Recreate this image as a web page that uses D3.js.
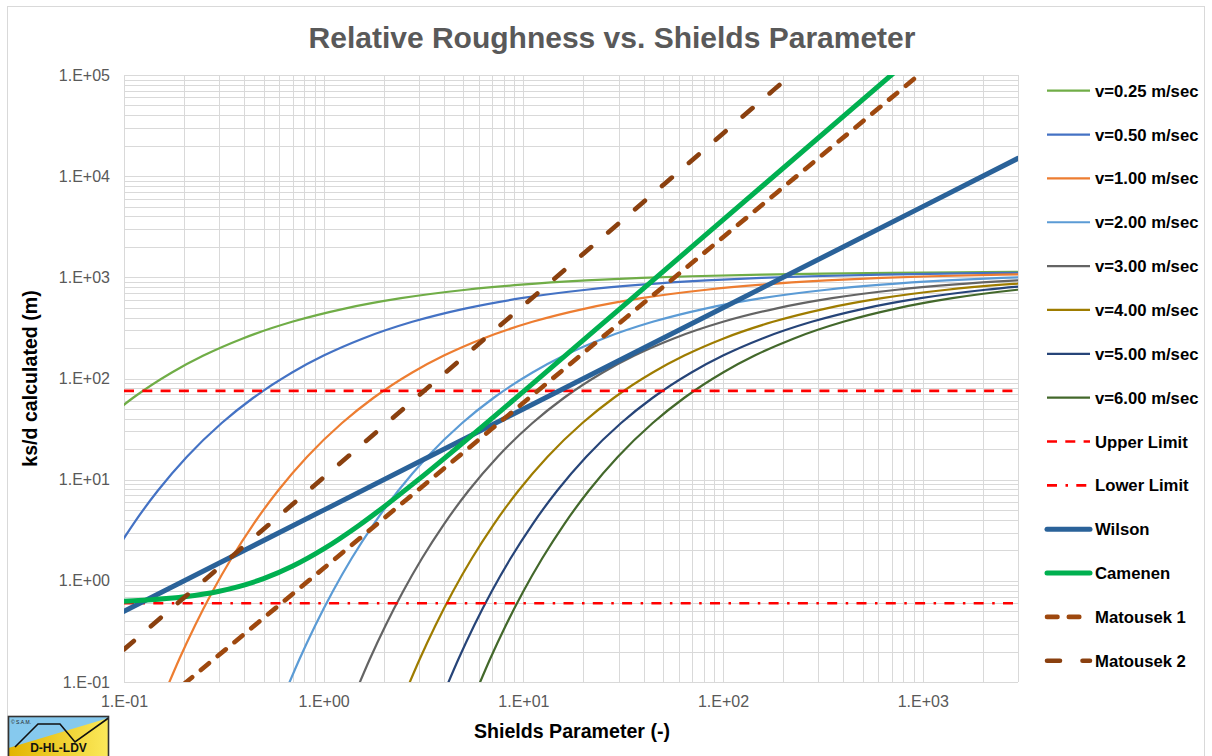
<!DOCTYPE html>
<html>
<head>
<meta charset="utf-8">
<script src="https://cdn.jsdelivr.net/npm/d3@7"></script>
<style>
  html, body { margin: 0; padding: 0; background: #ffffff; }
  svg { display: block; font-family: "Liberation Sans", Arial, sans-serif; }
</style>
</head>
<body>
<svg id="chart" width="1212" height="756"></svg>
<script>
// ---------------- DATA ----------------
const titleText = "Relative Roughness vs. Shields Parameter";
const xAxisTitle = "Shields Parameter (-)";
const yAxisTitle = "ks/d calculated (m)";

const xTickValues = [0.1, 1, 10, 100, 1000];
const xTickLabels = ["1.E-01", "1.E+00", "1.E+01", "1.E+02", "1.E+03"];
const yTickValues = [0.1, 1, 10, 100, 1000, 10000, 100000];
const yTickLabels = ["1.E-01", "1.E+00", "1.E+01", "1.E+02", "1.E+03", "1.E+04", "1.E+05"];

// [Shields parameter, ks/d]
const v025 = [[0.0772,36.29],[0.1111,64.54],[0.1736,114.8],[0.25,168.6],[0.3906,247.5],[0.6944,363.4],[1.291,494.0],[2.441,622.2],[5.165,754.1],[9.766,845.8],[20.66,931.1],[39.06,986.3],[69.44,1025],[156.3,1065],[318.9,1090],[692.5,1109],[1479,1122],[3086,1130]];
const v050 = [[0.0865,1.681],[0.1111,3.624],[0.1479,7.809],[0.2066,16.84],[0.3086,36.29],[0.4444,64.54],[0.6944,114.8],[1.0,168.6],[1.5625,247.5],[2.778,363.4],[5.165,494.0],[9.766,622.2],[20.66,754.1],[39.06,845.8],[82.64,931.1],[156.3,986.3],[277.8,1025],[625,1065],[1276,1090],[2770,1109],[5917,1122]];
const v100 = [[0.16,0.0779],[0.189,0.1679],[0.2268,0.3619],[0.277,0.7801],[0.346,1.681],[0.4444,3.624],[0.5917,7.809],[0.8264,16.84],[1.235,36.29],[1.778,64.54],[2.778,114.8],[4.0,168.6],[6.25,247.5],[11.11,363.4],[20.66,494.0],[39.06,622.2],[82.64,754.1],[156.3,845.8],[330.6,931.1],[625,986.3],[1111,1025],[2500,1065],[5102,1090]];
const v200 = [[0.64,0.0779],[0.7561,0.1679],[0.907,0.3619],[1.108,0.7801],[1.384,1.681],[1.778,3.624],[2.367,7.809],[3.306,16.84],[4.938,36.29],[7.111,64.54],[11.11,114.8],[16,168.6],[25,247.5],[44.44,363.4],[82.64,494.0],[156.3,622.2],[330.6,754.1],[625,845.8],[1322,931.1],[2500,986.3],[4444,1025]];
const v300 = [[1.44,0.0779],[1.701,0.1679],[2.041,0.3619],[2.493,0.7801],[3.114,1.681],[4.0,3.624],[5.325,7.809],[7.438,16.84],[11.11,36.29],[16,64.54],[25,114.8],[36,168.6],[56.25,247.5],[100,363.4],[186.0,494.0],[351.6,622.2],[743.8,754.1],[1406,845.8],[2975,931.1],[5625,986.3]];
const v400 = [[2.56,0.0779],[3.025,0.1679],[3.628,0.3619],[4.432,0.7801],[5.536,1.681],[7.111,3.624],[9.467,7.809],[13.22,16.84],[19.75,36.29],[28.44,64.54],[44.44,114.8],[64,168.6],[100,247.5],[177.8,363.4],[330.6,494.0],[625,622.2],[1322,754.1],[2500,845.8],[5289,931.1]];
const v500 = [[4.0,0.0779],[4.726,0.1679],[5.669,0.3619],[6.925,0.7801],[8.651,1.681],[11.11,3.624],[14.79,7.809],[20.66,16.84],[30.86,36.29],[44.44,64.54],[69.44,114.8],[100,168.6],[156.3,247.5],[277.8,363.4],[516.5,494.0],[976.6,622.2],[2066,754.1],[3906,845.8]];
const v600 = [[5.76,0.0779],[6.805,0.1679],[8.163,0.3619],[9.972,0.7801],[12.46,1.681],[16,3.624],[21.30,7.809],[29.75,16.84],[44.44,36.29],[64,64.54],[100,114.8],[144,168.6],[225,247.5],[400,363.4],[743.8,494.0],[1406,622.2],[2975,754.1],[5625,845.8]];
const upperLimit = [[0.1,75.4],[3000,75.4]];
const lowerLimit = [[0.1,0.6],[3000,0.6]];
const wilson = [[0.1,0.5],[1,5],[10,50],[100,500],[1000,5000],[3000,15000]];
const camenen = [[0.1,0.629],[0.2,0.695],[0.3,0.790],[0.5,1.052],[0.7,1.402],[1,2.07],[1.5,3.53],[2,5.38],[3,10.12],[5,23.28],[10,74.3],[30,477.5],[100,3693],[1000,185000]];
const matousek1 = [[0.2,0.0958],[1,1.332],[10,57.6],[100,2493],[1000,107800]];
const matousek2 = [[0.1,0.210],[1,10.52],[10,527],[100,26420],[300,171000]];

const seriesNames = ["v=0.25 m/sec","v=0.50 m/sec","v=1.00 m/sec","v=2.00 m/sec","v=3.00 m/sec","v=4.00 m/sec","v=5.00 m/sec","v=6.00 m/sec","Upper Limit","Lower Limit","Wilson","Camenen","Matousek 1","Matousek 2"];
const seriesData = [v025, v050, v100, v200, v300, v400, v500, v600, upperLimit, lowerLimit, wilson, camenen, matousek1, matousek2];
const seriesColors = ["#70ad47","#4472c4","#ed7d31","#5b9bd5","#646464","#9e7c00","#264478","#43682b","#ff0000","#ff0000","#2a6299","#00b050","#9e480e","#8a400f"];
const seriesWidths = [2.2,2.2,2.2,2.2,2.2,2.2,2.2,2.2,2.6,2.6,5,5,4.6,4.6];
const seriesDash = [null,null,null,null,null,null,null,null,"10,8.3","10,8.5,2.5,8.3",null,null,"10.5,11.3","13,22.5"];
const seriesCaps = ["butt","butt","butt","butt","butt","butt","butt","butt","butt","butt","round","round","round","round"];

// ---------------- LAYOUT ----------------
const plot = { left: 124, right: 1018, top: 75, bottom: 682 };

const svg = d3.select("#chart");

// chart area border
svg.append("rect")
  .attr("x", 7.5).attr("y", 6.5)
  .attr("width", 1197).attr("height", 770)
  .attr("fill", "#ffffff").attr("stroke", "#d9d9d9").attr("stroke-width", 1);

const x = d3.scaleLog().domain([0.1, 3000]).range([plot.left, plot.right]);
const y = d3.scaleLog().domain([0.1, 100000]).range([plot.bottom, plot.top]);

// gridlines (major + minor)
const xGrid = [];
xTickValues.forEach(d => { for (let k = 1; k <= 9; k++) { const v = d * k; if (v <= 3000 * 1.0001) xGrid.push(v); } });
xGrid.push(3000);
const yGrid = [];
yTickValues.slice(0, -1).forEach(d => { for (let k = 1; k <= 9; k++) yGrid.push(d * k); });
yGrid.push(100000);

const grid = svg.append("g").attr("stroke", "#d9d9d9").attr("stroke-width", 1).attr("shape-rendering", "crispEdges");
grid.selectAll("line.v").data(xGrid).join("line").attr("class", "v")
  .attr("x1", d => Math.round(x(d)) + 0.5).attr("x2", d => Math.round(x(d)) + 0.5)
  .attr("y1", plot.top).attr("y2", plot.bottom);
grid.selectAll("line.h").data(yGrid).join("line").attr("class", "h")
  .attr("y1", d => Math.round(y(d)) + 0.5).attr("y2", d => Math.round(y(d)) + 0.5)
  .attr("x1", plot.left).attr("x2", plot.right);

// axes (labels only)
const xAxis = d3.axisBottom(x).tickValues(xTickValues).tickFormat((d, i) => xTickLabels[i]).tickSize(0).tickPadding(14);
const gx = svg.append("g").attr("transform", `translate(0,${plot.bottom})`).call(xAxis);
gx.select(".domain").remove();
gx.selectAll("text").attr("fill", "#595959").style("font-size", "16px").style("font-family", "'Liberation Sans', Arial, sans-serif");

const yAxis = d3.axisLeft(y).tickValues(yTickValues).tickFormat((d, i) => yTickLabels[i]).tickSize(0).tickPadding(14);
const gy = svg.append("g").attr("transform", `translate(${plot.left},0)`).call(yAxis);
gy.select(".domain").remove();
gy.selectAll("text").attr("fill", "#595959").style("font-size", "16px").style("font-family", "'Liberation Sans', Arial, sans-serif");

// clip
svg.append("defs").append("clipPath").attr("id", "plotClip")
  .append("rect").attr("x", plot.left).attr("y", plot.top)
  .attr("width", plot.right - plot.left).attr("height", plot.bottom - plot.top);

const line = d3.line().x(d => x(d[0])).y(d => y(d[1])).curve(d3.curveMonotoneX);

const lines = svg.append("g").attr("clip-path", "url(#plotClip)");
seriesData.forEach((data, i) => {
  lines.append("path")
    .datum(data)
    .attr("d", line)
    .attr("fill", "none")
    .attr("stroke", seriesColors[i])
    .attr("stroke-width", seriesWidths[i])
    .attr("stroke-linecap", seriesCaps[i])
    .attr("stroke-linejoin", "round")
    .attr("stroke-dasharray", seriesDash[i]);
});

// title
svg.append("text")
  .attr("x", 612).attr("y", 48)
  .attr("text-anchor", "middle")
  .attr("fill", "#595959")
  .style("font-size", "30px").style("font-weight", "bold")
  .text(titleText);

// axis titles
svg.append("text")
  .attr("x", (plot.left + plot.right) / 2 + 1).attr("y", 738)
  .attr("text-anchor", "middle")
  .attr("fill", "#000000")
  .style("font-size", "19.6px").style("font-weight", "bold")
  .text(xAxisTitle);

svg.append("text")
  .attr("transform", `translate(37,${(plot.top + plot.bottom) / 2}) rotate(-90)`)
  .attr("text-anchor", "middle")
  .attr("fill", "#000000")
  .style("font-size", "19.6px").style("font-weight", "bold")
  .text(yAxisTitle);

// legend
const legend = svg.append("g");
seriesNames.forEach((name, i) => {
  const ly = 90.7 + i * 43.85;
  legend.append("line")
    .attr("x1", 1047).attr("x2", 1090)
    .attr("y1", ly).attr("y2", ly)
    .attr("stroke", seriesColors[i])
    .attr("stroke-width", seriesWidths[i])
    .attr("stroke-linecap", seriesCaps[i])
    .attr("stroke-dasharray", seriesDash[i]);
  legend.append("text")
    .attr("x", 1095).attr("y", ly).attr("dy", "0.36em")
    .attr("fill", "#000000")
    .style("font-size", "16.7px").style("font-weight", "bold")
    .text(name);
});

// logo (D-HL-LDV)
const logo = svg.append("g");
const defs = svg.select("defs");
const grad = defs.append("linearGradient").attr("id", "logoYellow").attr("x1", "0").attr("x2", "1").attr("y1", "0").attr("y2", "0");
grad.append("stop").attr("offset", "0").attr("stop-color", "#e2b400");
grad.append("stop").attr("offset", "1").attr("stop-color", "#fbe95a");
logo.append("rect").attr("x", 8.5).attr("y", 716.5).attr("width", 100).attr("height", 50)
  .attr("fill", "#86c9ee");
logo.append("polygon").attr("points", "8.5,748 108.5,718 108.5,766 8.5,766").attr("fill", "url(#logoYellow)");
logo.append("polyline").attr("points", "15,747 38,724 60,724 75,742 108.5,718")
  .attr("fill", "none").attr("stroke", "#111").attr("stroke-width", 1.6);
logo.append("rect").attr("x", 8.5).attr("y", 716.5).attr("width", 100).attr("height", 50)
  .attr("fill", "none").attr("stroke", "#333").attr("stroke-width", 1.6);
logo.append("text").attr("x", 11).attr("y", 724).style("font-size", "5px").attr("fill", "#222").text("© S.A.M.");
logo.append("text").attr("x", 58.5).attr("y", 752).attr("text-anchor", "middle")
  .style("font-size", "12px").style("font-weight", "bold").attr("fill", "#111").text("D-HL-LDV");
</script>
</body>
</html>
